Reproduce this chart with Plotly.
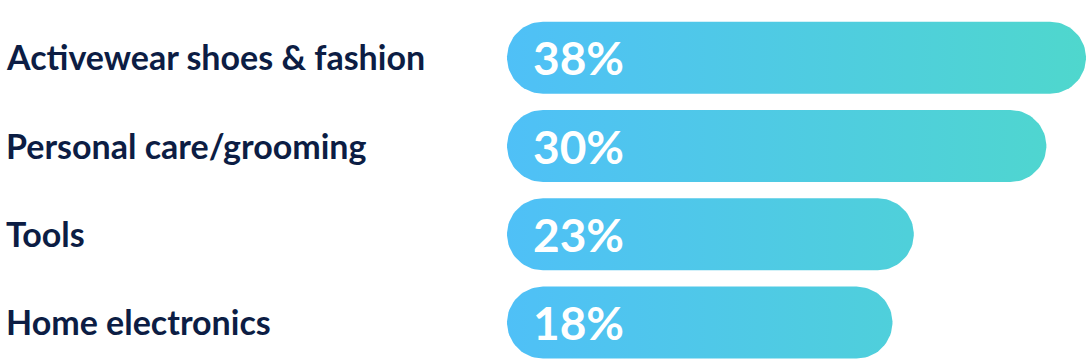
import numpy as np
import plotly.graph_objects as go

# ---- data ----
categories = ["Activewear shoes & fashion", "Personal care/grooming", "Tools", "Home electronics"]
value_labels = ["38%", "30%", "23%", "18%"]
# bar lengths as drawn in the picture (percent-scale units)
bar_lengths = [38.0, 35.4, 26.7, 25.3]

# ---- styling / layout constants ----
W, H = 1092, 364
bar_left_px = 507          # pixel where value 0 sits
full_px = 579              # pixel length of the 38-unit bar
sx = full_px / 38.0        # px per x unit
row_px = 88.3              # px between bar centres
first_center_px = 57.7
bar_h_px = 72
radius_px = bar_h_px / 2

x_min = -bar_left_px / sx
x_max = x_min + W / sx
y_top = -first_center_px / row_px
y_bot = y_top + H / row_px

c_left = "#4fc0f7"
c_right = "#4fd7cd"
navy = "#0c1d44"
font_fam = "Lato, 'Open Sans', sans-serif"

rx = radius_px / sx
ry = radius_px / row_px

fig = go.Figure()
for i, L in enumerate(bar_lengths):
    t_r = np.linspace(-np.pi / 2, np.pi / 2, 40)
    t_l = np.linspace(np.pi / 2, 3 * np.pi / 2, 40)
    xs = np.concatenate([(L - rx) + rx * np.cos(t_r), rx + rx * np.cos(t_l)])
    ys = np.concatenate([i + ry * np.sin(t_r), i + ry * np.sin(t_l)])
    xs = np.append(xs, xs[0]); ys = np.append(ys, ys[0])
    fig.add_trace(go.Scatter(
        x=xs, y=ys, mode="lines", fill="toself",
        line=dict(width=0, color="rgba(0,0,0,0)"),
        fillgradient=dict(type="horizontal",
                          colorscale=[[0, c_left], [1, c_right]],
                          start=0, stop=max(bar_lengths)),
        hoverinfo="skip", showlegend=False,
    ))
    fig.add_annotation(
        x=(531 - bar_left_px) / sx, y=i, xref="x", yref="y",
        text=value_labels[i], showarrow=False, xanchor="left", yanchor="middle",
        yshift=0,
        font=dict(family=font_fam, size=46, color="white", weight="bold"),
    )
    fig.add_annotation(
        x=4 / W, y=i, xref="paper", yref="y",
        text=categories[i], showarrow=False, xanchor="left", yanchor="middle",
        yshift=1,
        font=dict(family=font_fam, size=34, color=navy, weight="bold"),
    )

fig.update_layout(
    width=W, height=H, margin=dict(l=0, r=0, t=0, b=0),
    paper_bgcolor="white", plot_bgcolor="white",
    xaxis=dict(range=[x_min, x_max], visible=False, fixedrange=True),
    yaxis=dict(range=[y_bot, y_top], visible=False, fixedrange=True),
)
fig.write_html("out.html", config={"displayModeBar": False},
               post_script="document.body.style.margin='0';")
